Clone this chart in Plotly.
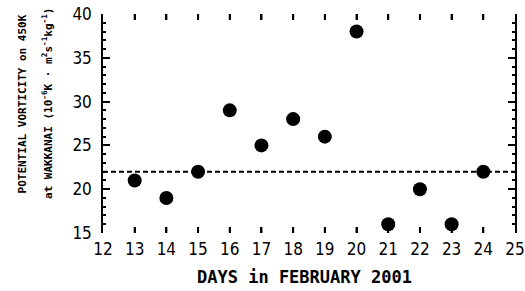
import plotly.graph_objects as go

days = [13, 14, 15, 16, 17, 18, 19, 20, 21, 22, 23, 24]
pv = [21, 19, 22, 29, 25, 28, 26, 38, 16, 20, 16, 22]
mean_level = 22
x_ticks = list(range(12, 26))
y_ticks = [15, 20, 25, 30, 35, 40]

MONO = "DejaVu Sans Mono"
NARROW = "Liberation Sans Narrow, DejaVu Sans Condensed, Arial Narrow, sans-serif"

inner_days = x_ticks[1:-1]

fig = go.Figure()
fig.add_trace(go.Scatter(x=[x_ticks[0], x_ticks[-1]], y=[mean_level, mean_level], mode="lines",
                         line=dict(color="black", width=2, dash="5px,3px"),
                         hoverinfo="skip", showlegend=False))
fig.add_trace(go.Scatter(x=days, y=pv, mode="markers",
                         marker=dict(color="black", size=14),
                         showlegend=False))

# inward tick marks along the bottom and top edges, placed on the x scale
for d in inner_days:
    fig.add_shape(type="line", xref="x", yref="paper", x0=d, x1=d, y0=0, y1=0.027,
                  line=dict(color="black", width=2), layer="above")
    fig.add_shape(type="line", xref="x", yref="paper", x0=d, x1=d, y0=0.973, y1=1,
                  line=dict(color="black", width=2), layer="above")

fig.update_layout(
    width=525, height=291,
    margin=dict(l=103, r=10, t=14, b=58, autoexpand=False),
    paper_bgcolor="white", plot_bgcolor="white",
    font=dict(family=MONO, color="black"),
    xaxis=dict(range=[12, 25], tickvals=x_ticks, ticktext=[str(v) for v in x_ticks],
               automargin=False,
               showgrid=False, zeroline=False, showline=False,
               ticks="inside", ticklen=6, tickwidth=2, tickcolor="black",
               mirror="ticks", tickfont=dict(size=17, family=NARROW),
               ticklabelstandoff=4),
    yaxis=dict(range=[15, 40], tickvals=y_ticks, automargin=False,
               showgrid=False, zeroline=False, showline=True, linecolor="black", linewidth=1.5,
               mirror="all", ticks="inside", ticklen=7, tickwidth=1.5, tickcolor="black",
               minor=dict(dtick=1, ticks="inside", ticklen=3, tickcolor="black",
                          tickwidth=1.5, showgrid=False),
               tickfont=dict(size=17, family=NARROW), ticklabelstandoff=6),
)

fig.add_annotation(text="DAYS in FEBRUARY 2001", xref="paper", yref="paper",
                   x=0.49, y=-0.2, showarrow=False,
                   font=dict(size=17, family=MONO, weight="bold"),
                   xanchor="center", yanchor="middle")
fig.add_annotation(text="POTENTIAL VORTICITY on 450K", xref="paper", yref="paper",
                   x=-0.195, y=0.59, textangle=-90, showarrow=False,
                   font=dict(size=11, family=MONO, weight="bold"),
                   xanchor="center", yanchor="middle")
fig.add_annotation(text="at WAKKANAI (10<sup>-6</sup>K · m<sup>2</sup>s<sup>-1</sup>kg<sup>-1</sup>)",
                   xref="paper", yref="paper",
                   x=-0.133, y=0.59, textangle=-90, showarrow=False,
                   font=dict(size=11, family=MONO, weight="bold"),
                   xanchor="center", yanchor="middle")

fig.write_html("out.html", config={"displayModeBar": False},
               post_script="document.body.style.margin='0';")
